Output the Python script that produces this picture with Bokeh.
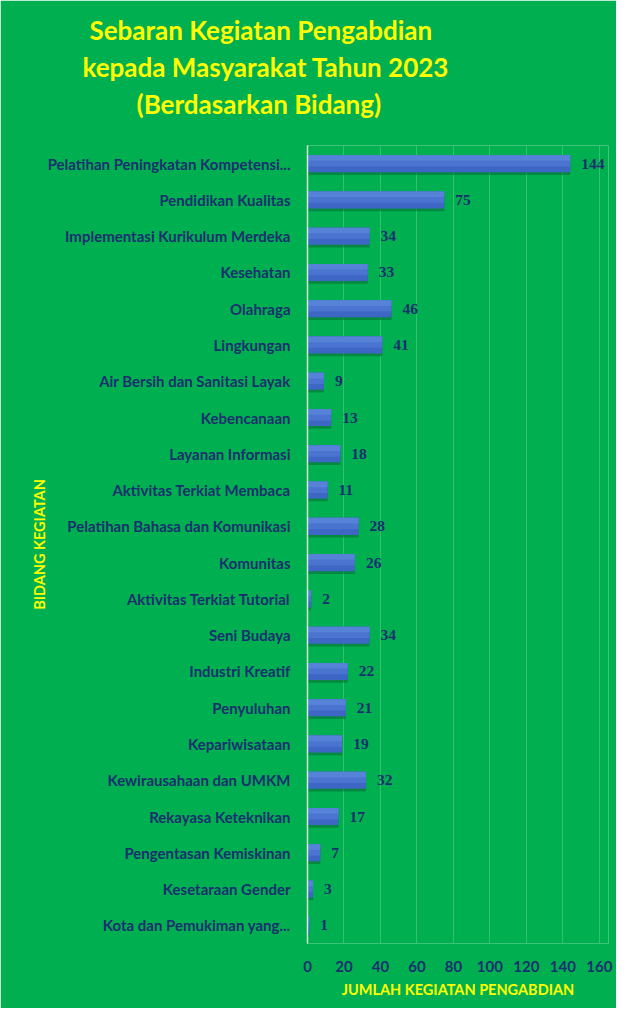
from bokeh.plotting import figure
from bokeh.models import ColumnDataSource, LabelSet, Title, FixedTicker, Range1d
from bokeh.transform import dodge
from bokeh.embed import file_html
from bokeh.resources import INLINE

categories = [
    "Pelatihan Peningkatan Kompetensi...",
    "Pendidikan Kualitas",
    "Implementasi Kurikulum Merdeka",
    "Kesehatan",
    "Olahraga",
    "Lingkungan",
    "Air Bersih dan Sanitasi Layak",
    "Kebencanaan",
    "Layanan Informasi",
    "Aktivitas Terkiat Membaca",
    "Pelatihan Bahasa dan Komunikasi",
    "Komunitas",
    "Aktivitas Terkiat Tutorial",
    "Seni Budaya",
    "Industri Kreatif",
    "Penyuluhan",
    "Kepariwisataan",
    "Kewirausahaan dan UMKM",
    "Rekayasa Keteknikan",
    "Pengentasan Kemiskinan",
    "Kesetaraan Gender",
    "Kota dan Pemukiman yang...",
]
values = [144, 75, 34, 33, 46, 41, 9, 13, 18, 11, 28, 26, 2, 34, 22, 21, 19, 32, 17, 7, 3, 1]
x_ticks = [0, 20, 40, 60, 80, 100, 120, 140, 160]
title_lines = ["Sebaran Kegiatan Pengabdian", "kepada Masyarakat Tahun 2023", "(Berdasarkan Bidang)"]

GREEN = "#00B050"
NAVY = "#1B2F6E"
YELLOW = "#FFFF00"
FONT = "Lato"

src = ColumnDataSource(dict(cat=categories, val=values, lab=[str(v) for v in values]))

p = figure(width=616, height=1008, y_range=list(reversed(categories)),
           x_range=Range1d(0, 165), output_backend="svg", toolbar_location=None,
           min_border_left=307, min_border_right=8, min_border_top=145, min_border_bottom=65)
p.background_fill_color = GREEN
p.border_fill_color = GREEN
p.outline_line_color = None

BH = 0.47
# shadow
p.hbar(y=dodge("cat", -0.075, range=p.y_range), left=0, right="val", height=BH,
       source=src, fill_color="#0A6A33", fill_alpha=0.55, line_color=None)
# bar with a soft top-to-bottom shading
p.hbar(y="cat", left=0, right="val", height=BH, source=src,
       fill_color="#3E66C5", line_color=None)
p.hbar(y=dodge("cat", BH / 6, range=p.y_range), left=0, right="val", height=BH * 2 / 3,
       source=src, fill_color="#4A74CF", line_color=None)
p.hbar(y=dodge("cat", BH / 3, range=p.y_range), left=0, right="val", height=BH / 3,
       source=src, fill_color="#5682D8", line_color=None)

labels = LabelSet(x="val", y="cat", text="lab", source=src, x_offset=11,
                  text_baseline="middle", text_align="left", text_font=FONT,
                  text_font_size="15.5px", text_font_style="bold", text_color=NAVY)
p.add_layout(labels)

p.xaxis.ticker = FixedTicker(ticks=x_ticks)
p.xgrid.ticker = FixedTicker(ticks=x_ticks[1:])
p.xgrid.grid_line_color = "#36C06C"
p.xgrid.grid_line_width = 1
p.ygrid.grid_line_color = None

p.xaxis.axis_line_color = None
p.xaxis.major_tick_line_color = None
p.xaxis.minor_tick_line_color = None
p.xaxis.major_label_standoff = 11
p.xaxis.major_label_text_font = FONT
p.xaxis.major_label_text_font_size = "15px"
p.xaxis.major_label_text_font_style = "bold"
p.xaxis.major_label_text_color = NAVY
p.xaxis.axis_label = "JUMLAH KEGIATAN PENGABDIAN"
p.xaxis.axis_label_text_font = FONT
p.xaxis.axis_label_text_font_size = "14.5px"
p.xaxis.axis_label_text_font_style = "bold"
p.xaxis.axis_label_text_color = YELLOW
p.xaxis.axis_label_standoff = 6

p.yaxis.axis_line_color = "#D6EBD9"
p.yaxis.axis_line_width = 1.5
p.yaxis.major_tick_line_color = None
p.yaxis.minor_tick_line_color = None
p.yaxis.major_label_standoff = 11
p.yaxis.major_label_text_font = FONT
p.yaxis.major_label_text_font_size = "15px"
p.yaxis.major_label_text_font_style = "bold"
p.yaxis.major_label_text_color = NAVY
p.yaxis.axis_label = "BIDANG KEGIATAN"
p.yaxis.axis_label_text_font = FONT
p.yaxis.axis_label_text_font_size = "14.5px"
p.yaxis.axis_label_text_font_style = "bold"
p.yaxis.axis_label_text_color = YELLOW
p.yaxis.axis_label_standoff = -3

p.title.visible = False
# spacer between frame and title block
p.add_layout(Title(text=" ", standoff=22, text_font_size="1px"), "above")
lefts = [89, 82, 136]
standoffs = [2, 4, 2]
for line, left, so in reversed(list(zip(title_lines, lefts, standoffs))):
    t = Title(text=line, align="left", offset=left - 307, text_font=FONT,
              text_font_size="26px", text_font_style="bold", text_color=YELLOW,
              standoff=so)
    p.add_layout(t, "above")

open("out.html", "w").write(file_html(p, INLINE))
